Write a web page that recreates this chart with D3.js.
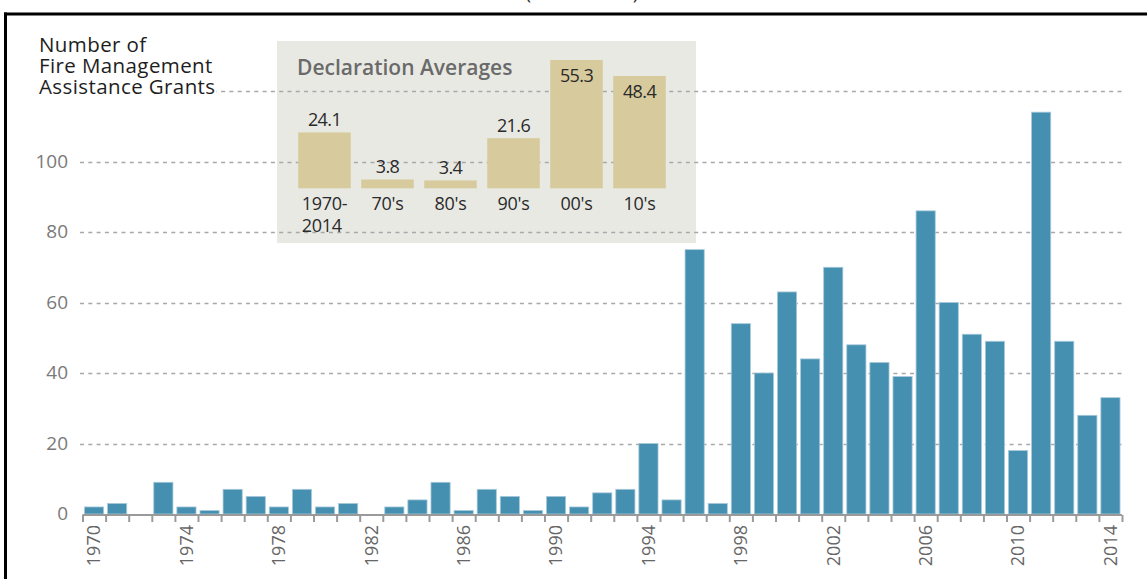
<!DOCTYPE html>
<html>
<head>
<meta charset="utf-8">
<script src="https://cdn.jsdelivr.net/npm/d3@7"></script>
<style>
  html, body { margin: 0; padding: 0; background: #fff; }
  svg { display: block; font-family: "Open Sans", "Noto Sans", sans-serif; }
</style>
</head>
<body>
<svg id="chart" width="1147" height="579"></svg>
<script>
// ---- Data ----
const years = d3.range(1970, 2015);
const grants = [2, 3, 0, 9, 2, 1, 7, 5, 2, 7,
                2, 3, 0, 2, 4, 9, 1, 7, 5, 1,
                5, 2, 6, 7, 20, 4, 75, 3, 54, 40,
                63, 44, 70, 48, 43, 39, 86, 60, 51, 49,
                18, 114, 49, 28, 33];
const yTicks = [0, 20, 40, 60, 80, 100, 120];
const yTickLabels = ["0", "20", "40", "60", "80", "100", ""];
const xLabelYears = [1970, 1974, 1978, 1982, 1986, 1990, 1994, 1998, 2002, 2006, 2010, 2014];
const avgCategories = ["1970-2014", "70's", "80's", "90's", "00's", "10's"];
const avgLabels = [["1970-", "2014"], ["70's"], ["80's"], ["90's"], ["00's"], ["10's"]];
const avgValues = [24.1, 3.8, 3.4, 21.6, 55.3, 48.4];
const yTitle = ["Number of", "Fire Management", "Assistance Grants"];
const insetTitle = "Declaration Averages";
const topTitle = "(1970–2014)";

const svg = d3.select("#chart");

// ---- Scales ----
const x = d3.scaleBand().domain(years).range([82.5, 1122]).paddingInner(0.17).paddingOuter(0.085);
const xEdge = d3.scaleLinear().domain([1970, 2015]).range([82.5, 1122]);
const y = d3.scaleLinear().domain([0, 120]).range([514, 91]);

// ---- Top partial title ----
svg.append("text").attr("x", 582).attr("y", -1).attr("text-anchor", "middle")
  .attr("font-size", 20).attr("fill", "#333").text(topTitle);

// ---- Inset box ----
const box = { x0: 277, x1: 696, y0: 41, y1: 243 };
svg.append("rect").attr("x", box.x0).attr("y", box.y0)
  .attr("width", box.x1 - box.x0).attr("height", box.y1 - box.y0)
  .attr("fill", "#e9e9e4");

// ---- Gridlines ----
const grid = svg.append("g").attr("class", "grid");
grid.selectAll("line").data(yTicks.filter(d => d > 0)).join("line")
  .attr("x1", 80).attr("x2", 1122)
  .attr("y1", d => Math.round(y(d)) + 0.5).attr("y2", d => Math.round(y(d)) + 0.5)
  .attr("stroke", "#a8a8a8").attr("stroke-width", 1.5)
  .attr("stroke-dasharray", "4,4.3");

// ---- Y axis labels ----
const yAxis = d3.axisLeft(y).tickValues(yTicks).tickSize(0).tickPadding(0)
  .tickFormat((d, i) => yTickLabels[i]);
const gy = svg.append("g").attr("transform", "translate(68,0)").call(yAxis);
gy.select(".domain").remove();
gy.selectAll("text").attr("font-size", 19).attr("fill", "#7a7a7a")
  .attr("font-family", "'Open Sans', sans-serif").attr("dy", "0.3em");

// ---- Y title with white backing ----
const tg = svg.append("g");
const tBack = tg.append("rect").attr("fill", "#fff");
const tText = tg.append("text").attr("font-size", 20.5).attr("fill", "#1e1e1e")
  .attr("letter-spacing", 0.4);
tText.selectAll("tspan").data(yTitle).join("tspan")
  .attr("x", 39).attr("y", (d, i) => 52 + i * 21).text(d => d);
const bb = tText.node().getBBox();
tBack.attr("x", bb.x - 2).attr("y", bb.y).attr("width", bb.width + 3).attr("height", bb.height);

// ---- Main bars ----
svg.append("g").selectAll("rect").data(years).join("rect")
  .attr("x", d => x(d)).attr("width", x.bandwidth())
  .attr("y", (d, i) => y(grants[i])).attr("height", (d, i) => y(0) - y(grants[i]))
  .attr("fill", "#4590b1").attr("stroke", "#a9cadb").attr("stroke-width", 0.8);

// ---- X axis: tick marks at band edges ----
const xTickAxis = d3.axisBottom(xEdge).tickValues(d3.range(1970, 2016)).tickSize(7).tickFormat("");
const gx = svg.append("g").attr("transform", `translate(0,${y(0) + 1})`).call(xTickAxis);
gx.select(".domain").attr("stroke", "#9a9a9a").attr("stroke-width", 2.2).attr("d", `M${xEdge(1970)},0H${xEdge(2015)}`);
gx.selectAll(".tick line").attr("stroke", "#9a9a9a").attr("stroke-width", 2);

// ---- X axis labels (rotated) ----
const xLabelAxis = d3.axisBottom(x).tickValues(xLabelYears).tickSize(0).tickPadding(0);
const gxl = svg.append("g").attr("transform", `translate(0,${y(0) + 11})`).call(xLabelAxis);
gxl.select(".domain").remove();
gxl.selectAll("text").attr("font-size", 18).attr("fill", "#666")
  .attr("font-family", "'Open Sans', sans-serif")
  .attr("text-anchor", "end").attr("dy", "0.35em").attr("y", 0)
  .attr("transform", "rotate(-90)");

// ---- Inset chart ----
const ix = d3.scaleBand().domain(avgCategories).range([293, 671]).paddingInner(0.165).paddingOuter(0.0825);
const iy = d3.scaleLinear().domain([0, 60]).range([188.3, 188.3 - 60 * 2.32]);

const ig = svg.append("g");
ig.append("text").attr("x", 297).attr("y", 75).attr("font-size", 21).attr("font-weight", 600)
  .attr("fill", "#6a6a6a").text(insetTitle);

ig.selectAll("rect.avg").data(avgCategories).join("rect").attr("class", "avg")
  .attr("x", d => ix(d)).attr("width", ix.bandwidth())
  .attr("y", (d, i) => iy(avgValues[i])).attr("height", (d, i) => iy(0) - iy(avgValues[i]))
  .attr("fill", "#d7cb9d");

ig.selectAll("text.val").data(avgCategories).join("text").attr("class", "val")
  .attr("x", d => ix(d) + ix.bandwidth() / 2)
  .attr("y", (d, i) => avgValues[i] > 40 ? iy(avgValues[i]) + 22 : iy(avgValues[i]) - 6)
  .attr("text-anchor", "middle").attr("font-size", 18).attr("fill", "#2a2a2a")
  .attr("letter-spacing", -0.6)
  .text((d, i) => avgValues[i].toFixed(1));

const catText = ig.selectAll("text.cat").data(avgCategories).join("text").attr("class", "cat")
  .attr("font-size", 18).attr("fill", "#2a2a2a").attr("letter-spacing", -0.3);
catText.each(function (d, i) {
  const t = d3.select(this);
  const cx = ix(d) + ix.bandwidth() / 2;
  const lines = avgLabels[i];
  const first = t.append("tspan").attr("x", cx).attr("y", 210).attr("text-anchor", "middle").text(lines[0]);
  if (lines.length > 1) {
    const w = first.node().getComputedTextLength();
    first.attr("text-anchor", "start").attr("x", cx - w / 2);
    t.append("tspan").attr("x", cx - w / 2).attr("y", 232).text(lines[1]);
  }
});

// ---- Frame ----
svg.append("line").attr("x1", 4).attr("x2", 1147).attr("y1", 14).attr("y2", 14)
  .attr("stroke", "#000").attr("stroke-width", 3);
svg.append("line").attr("x1", 5.5).attr("x2", 5.5).attr("y1", 12.5).attr("y2", 579)
  .attr("stroke", "#000").attr("stroke-width", 3);
</script>
</body>
</html>
